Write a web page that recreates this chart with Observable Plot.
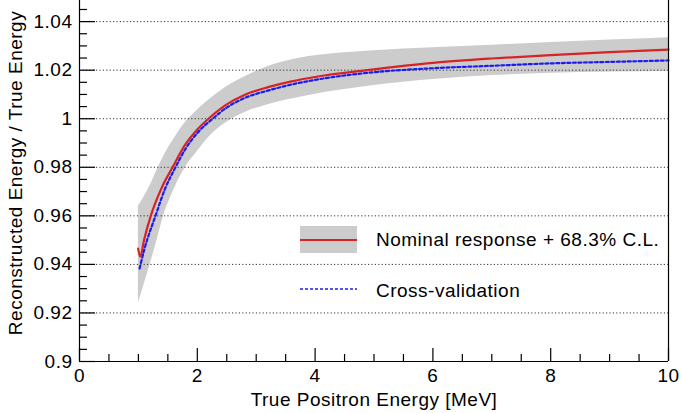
<!DOCTYPE html>
<html><head><meta charset="utf-8">
<script src="https://cdn.jsdelivr.net/npm/d3@7"></script>
<script src="https://cdn.jsdelivr.net/npm/@observablehq/plot@0.6"></script>
<style>
body{margin:0;background:#fff;}
#wrap{position:relative;width:682px;height:413px;font-family:"Liberation Sans",Arial,Helvetica,sans-serif;}
.leg{position:absolute;font-size:19px;letter-spacing:0.5px;color:#000;line-height:1;white-space:nowrap;}
</style></head><body><div id="wrap"></div>
<script>
// Band (68.3% C.L.) edges
const bandE    = [1.0, 1.1, 1.2, 1.3, 1.43, 1.6, 1.8, 2.0, 2.2, 2.5, 2.8, 3.2, 3.87, 4.5, 5.0, 6.0, 7.0, 8.0, 9.0, 10.0];
const bandLow  = [0.924, 0.932, 0.940, 0.9485, 0.960, 0.9705, 0.980, 0.9865, 0.9925, 0.9985, 1.0025, 1.0058, 1.0095, 1.012, 1.0137, 1.0162, 1.0178, 1.0187, 1.0192, 1.0195];
const bandHigh = [0.964, 0.968, 0.9725, 0.978, 0.9845, 0.9915, 0.9985, 1.0035, 1.0078, 1.0132, 1.0172, 1.0215, 1.0255, 1.0272, 1.028, 1.0292, 1.0303, 1.0314, 1.0324, 1.0334];
// Nominal response
const nominalE = [0.995, 1.03, 1.1, 1.21, 1.4, 1.58, 1.8, 2.0, 2.19, 2.5, 2.8, 3.2, 3.6, 4.0, 4.89, 6.0, 7.0, 8.0, 9.0, 10.0];
const nominalR = [0.9465, 0.9432, 0.9505, 0.9600, 0.9718, 0.9800, 0.9895, 0.9956, 1.0000, 1.0059, 1.0098, 1.0130, 1.0154, 1.0172, 1.0200, 1.0230, 1.0248, 1.0262, 1.0274, 1.0285];
// Cross-validation
const cvE = [1.02, 1.1, 1.29, 1.45, 1.63, 1.8, 2.0, 2.26, 2.5, 2.8, 3.2, 3.6, 4.0, 4.89, 6.0, 7.0, 8.0, 9.0, 10.0];
const cvR = [0.9383, 0.9461, 0.9600, 0.9710, 0.9800, 0.9876, 0.9941, 1.0000, 1.0046, 1.0085, 1.0116, 1.0141, 1.0160, 1.0189, 1.0208, 1.0218, 1.0228, 1.0234, 1.0240];
// Ticks
const xTicks = [0, 2, 4, 6, 8, 10];
const xMinorTicks = [0.5, 1, 1.5, 2.5, 3, 3.5, 4.5, 5, 5.5, 6.5, 7, 7.5, 8.5, 9, 9.5];
const yTicks = [0.9, 0.92, 0.94, 0.96, 0.98, 1.0, 1.02, 1.04];
const yMinorTicks = [0.905, 0.91, 0.915, 0.925, 0.93, 0.935, 0.945, 0.95, 0.955, 0.965, 0.97, 0.975, 0.985, 0.99, 0.995, 1.005, 1.01, 1.015, 1.025, 1.03, 1.035, 1.045];
const gridY = [0.92, 0.94, 0.96, 0.98, 1.0, 1.02, 1.04];
const xTitle = "True Positron Energy [MeV]";
const yTitle = "Reconstructed Energy / True Energy";
const legendLabels = ["Nominal response + 68.3% C.L.", "Cross-validation"];

const W = 682, H = 413, mL = 79, mR = 14, mT = 0, mB = 52;
const pw = W - mL - mR, ph = H - mT - mB;
const band = bandE.map((e, i) => ({e, lo: bandLow[i], hi: bandHigh[i]}));
const nominal = nominalE.map((e, i) => ({e, r: nominalR[i]}));
const cv = cvE.map((e, i) => ({e, r: cvR[i]}));
const RED = "#d62424", BLUE = "#1c1cf0", GRAY = "#cccccc";

const chart = Plot.plot({
  width: W, height: H, marginLeft: mL, marginRight: mR, marginTop: mT, marginBottom: mB,
  x: {domain: [0, 10]},
  y: {domain: [0.9, 1.0487]},
  style: "font-family:'Liberation Sans',Arial,Helvetica,sans-serif;font-size:19px;letter-spacing:0.5px;background:white;overflow:visible;",
  marks: [
    Plot.areaY(band, {x: "e", y1: "lo", y2: "hi", fill: GRAY, curve: "monotone-x"}),
    Plot.ruleY(gridY, {stroke: "#333", strokeDasharray: "1.2,2.2", strokeWidth: 1}),
    Plot.line(nominal, {x: "e", y: "r", stroke: RED, strokeWidth: 2.2, curve: "monotone-x"}),
    Plot.line(cv, {x: "e", y: "r", stroke: BLUE, strokeWidth: 2.2, strokeDasharray: "3,2.5", curve: "monotone-x"}),
    Plot.ruleX([0, 10], {stroke: "#000", strokeWidth: 1.2}),
    Plot.ruleY([0.9], {stroke: "#000", strokeWidth: 1.2}),
    Plot.tickY(yMinorTicks, {insetRight: pw - 8, stroke: "#000", strokeWidth: 1.2}),
    Plot.tickY(yTicks, {insetRight: pw - 16, stroke: "#000", strokeWidth: 1.2}),
    Plot.tickX(xMinorTicks, {insetTop: ph - 7, stroke: "#000", strokeWidth: 1.2}),
    Plot.tickX(xTicks, {insetTop: ph - 13, stroke: "#000", strokeWidth: 1.2}),
    Plot.axisY(yTicks, {tickSize: 0, tickPadding: 7, tickFormat: d => String(+d.toFixed(2)), label: null}),
    Plot.axisX(xTicks, {tickSize: 0, tickPadding: 7, label: null}),
    Plot.text([yTitle], {frameAnchor: "left", dx: -64, dy: -8, rotate: -90, textAnchor: "middle", lineAnchor: "middle"}),
    Plot.text([xTitle], {frameAnchor: "bottom", dy: 38, textAnchor: "middle", lineAnchor: "middle"})
  ]
});
const wrap = document.getElementById("wrap");
wrap.appendChild(chart);

// Legend overlay (inside the frame, no border)
const l1box = document.createElement("div");
l1box.style.cssText = `position:absolute;left:300px;top:226px;width:57px;height:27px;background:${GRAY};`;
const l1line = document.createElement("div");
l1line.style.cssText = `position:absolute;left:0;top:12.5px;width:57px;height:2.4px;background:${RED};`;
l1box.appendChild(l1line);
wrap.appendChild(l1box);
const l1t = document.createElement("div");
l1t.className = "leg"; l1t.style.left = "376px"; l1t.style.top = "229.5px";
l1t.textContent = legendLabels[0];
wrap.appendChild(l1t);

const ns = "http://www.w3.org/2000/svg";
const l2 = document.createElementNS(ns, "svg");
l2.setAttribute("width", 57); l2.setAttribute("height", 6);
l2.style.cssText = "position:absolute;left:300px;top:286px;";
const ln = document.createElementNS(ns, "line");
ln.setAttribute("x1", 0); ln.setAttribute("x2", 57); ln.setAttribute("y1", 3); ln.setAttribute("y2", 3);
ln.setAttribute("stroke", BLUE); ln.setAttribute("stroke-width", 1.6); ln.setAttribute("stroke-dasharray", "3,2");
l2.appendChild(ln);
wrap.appendChild(l2);
const l2t = document.createElement("div");
l2t.className = "leg"; l2t.style.left = "376px"; l2t.style.top = "280.5px";
l2t.textContent = legendLabels[1];
wrap.appendChild(l2t);
</script>
</body></html>
